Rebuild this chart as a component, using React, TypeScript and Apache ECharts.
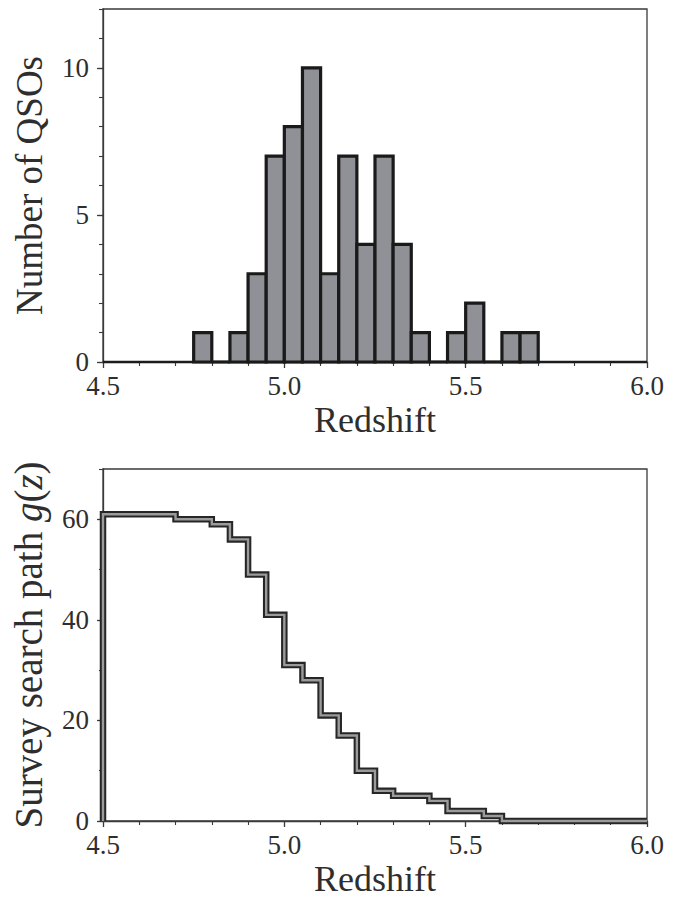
import React, { useEffect, useRef } from "react";
import * as echarts from "echarts";

// ---- Data ----
// Top panel: redshift histogram, bins of width 0.05 starting at these values
const binStart = [4.75, 4.8, 4.85, 4.9, 4.95, 5.0, 5.05, 5.1, 5.15, 5.2, 5.25, 5.3, 5.35, 5.4, 5.45, 5.5, 5.55, 5.6, 5.65];
const qsoCounts = [1, 0, 1, 3, 7, 8, 10, 3, 7, 4, 7, 4, 1, 0, 1, 2, 0, 1, 1];
const binWidth = 0.05;

// Bottom panel: survey search path g(z), piecewise constant between edges
const pathEdges = [4.5, 4.7, 4.8, 4.85, 4.9, 4.95, 5.0, 5.05, 5.1, 5.15, 5.2, 5.25, 5.3, 5.4, 5.45, 5.55, 5.6, 6.0];
const pathValues = [61, 60, 59, 56, 49, 41, 31, 28, 21, 17, 10, 6, 5, 4, 2, 1, 0];

const xRange = [4.5, 6.0];
const xMajorTicks = [4.5, 5.0, 5.5, 6.0];
const yTopMajor = [0, 5, 10];
const yBottomMajor = [0, 20, 40, 60];

const FONT = "'Liberation Serif', 'Times New Roman', 'DejaVu Serif', serif";
const TEXT = "#2e2e2e";
const AXIS = "#3a3a3a";

export default function App() {
  const ref = useRef<HTMLDivElement>(null);

  useEffect(() => {
    if (!ref.current) return;
    const chart = echarts.init(ref.current, null, { renderer: "svg" });

    const stepData: number[][] = [[pathEdges[0], 0]];
    pathValues.forEach((v, i) => stepData.push([pathEdges[i], v]));
    stepData.push([pathEdges[pathEdges.length - 1], 0]);

    const histData = binStart.map((b, i) => [b, qsoCounts[i]]);

    const xAxisBase = (gridIndex: number) => ({
      type: "value",
      gridIndex,
      position: "bottom",
      min: xRange[0],
      max: xRange[1],
      interval: 0.5,
      name: "Redshift",
      nameLocation: "middle",
      nameGap: 40,
      nameTextStyle: { fontFamily: FONT, fontSize: 36, color: TEXT },
      axisLine: { show: true, onZero: false, lineStyle: { color: AXIS, width: 1.3 } },
      axisTick: { show: true, inside: false, length: 6, lineStyle: { color: AXIS, width: 1.3 } },
      minorTick: { show: true, splitNumber: 5, length: 4, lineStyle: { color: AXIS, width: 1.1 } },
      splitLine: { show: false },
      minorSplitLine: { show: false },
      axisLabel: {
        margin: 10,
        fontFamily: FONT,
        fontSize: 27,
        color: TEXT,
        customValues: xMajorTicks,
        formatter: (v: number) => v.toFixed(1),
      },
    });

    const yMajor = (
      gridIndex: number,
      max: number,
      interval: number,
      ticks: number[],
      name: any,
      nameSize: number,
      rich?: any
    ) => ({
      type: "value",
      gridIndex,
      position: "left",
      min: 0,
      max,
      interval,
      name,
      nameLocation: "middle",
      nameGap: 55,
      nameTextStyle: { fontFamily: FONT, fontSize: nameSize, color: TEXT, rich },
      axisLine: { show: true, onZero: false, lineStyle: { color: AXIS, width: 1.3 } },
      axisTick: { show: true, inside: false, length: 6, customValues: ticks, lineStyle: { color: AXIS, width: 1.3 } },
      splitLine: { show: false },
      axisLabel: {
        margin: 14,
        fontFamily: FONT,
        fontSize: 27,
        color: TEXT,
        customValues: ticks,
        formatter: (v: number) => (ticks.indexOf(v) >= 0 ? String(v) : ""),
      },
    });

    const yMinor = (gridIndex: number, max: number, interval: number) => ({
      type: "value",
      gridIndex,
      position: "left",
      offset: 0,
      min: 0,
      max,
      interval,
      axisLine: { show: false, onZero: false },
      axisTick: { show: true, inside: false, length: 4, lineStyle: { color: AXIS, width: 1.1 } },
      axisLabel: { show: false },
      splitLine: { show: false },
    });

    const italic = { fontFamily: FONT, fontSize: 39, fontStyle: "italic", color: TEXT };

    chart.setOption({
      animation: false,
      backgroundColor: "#ffffff",
      grid: [
        { left: 103, top: 9, width: 544, height: 353, show: true, borderColor: AXIS, borderWidth: 1.3, backgroundColor: "transparent" },
        { left: 103, top: 469, width: 544, height: 352, show: true, borderColor: AXIS, borderWidth: 1.3, backgroundColor: "transparent" },
      ],
      xAxis: [xAxisBase(0), xAxisBase(1)],
      yAxis: [
        yMajor(0, 12, 5, yTopMajor, "Number of QSOs", 37),
        yMinor(0, 12, 1),
        yMajor(1, 70, 20, yBottomMajor, "Survey search path {i|g}({i|z})", 39, { i: italic }),
        yMinor(1, 70, 10),
      ],
      series: [
        {
          type: "line",
          xAxisIndex: 0,
          yAxisIndex: 0,
          data: [[xRange[0], 0], [xRange[1], 0]],
          symbol: "none",
          lineStyle: { color: "#1c1c1c", width: 2.6 },
          z: 2,
        },
        {
          type: "custom",
          xAxisIndex: 0,
          yAxisIndex: 0,
          data: histData,
          encode: { x: 0, y: 1 },
          z: 3,
          renderItem: (params: any, api: any) => {
            const x0 = api.value(0);
            const y = api.value(1);
            const p1 = api.coord([x0, y]);
            const p2 = api.coord([x0 + binWidth, 0]);
            return {
              type: "rect",
              shape: { x: p1[0], y: p1[1], width: p2[0] - p1[0], height: p2[1] - p1[1] },
              style: { fill: "#8f9196", stroke: "#1a1a1a", lineWidth: 3.2 },
            };
          },
        },
        {
          type: "line",
          xAxisIndex: 1,
          yAxisIndex: 2,
          data: stepData,
          step: "end",
          symbol: "none",
          clip: false,
          lineStyle: { color: "#262626", width: 6.5, join: "miter", cap: "butt" },
          z: 3,
        },
        {
          type: "line",
          xAxisIndex: 1,
          yAxisIndex: 2,
          data: stepData,
          step: "end",
          symbol: "none",
          clip: false,
          lineStyle: { color: "#9b9b9b", width: 2.4, join: "miter", cap: "butt" },
          z: 4,
        },
      ],
    });

    return () => chart.dispose();
  }, []);

  return (
    <div
      ref={ref}
      style={{ position: "absolute", left: 0, top: 0, width: 683, height: 901, background: "#fff" }}
    />
  );
}
